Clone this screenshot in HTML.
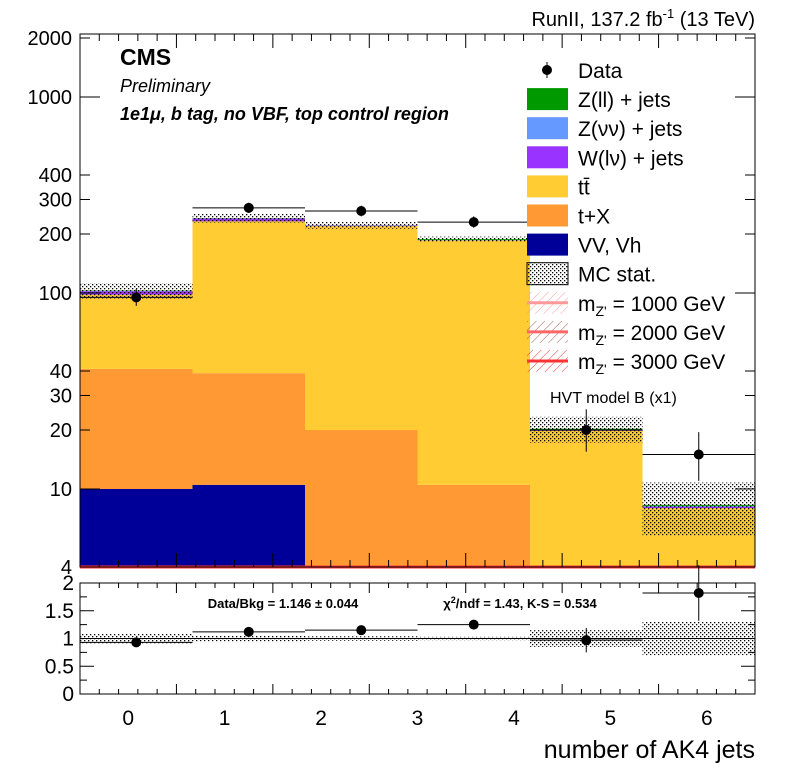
<!DOCTYPE html>
<html><head><meta charset="utf-8"><style>
html,body{margin:0;padding:0;background:#fff;}
svg{display:block;font-family:"Liberation Sans",sans-serif;}
</style></head><body>
<svg id="c" width="796" height="772" xmlns="http://www.w3.org/2000/svg">
<defs>
<pattern id="dots" width="4" height="4" patternUnits="userSpaceOnUse"><rect x="0" y="0" width="1.3" height="1.3" fill="#000"/><rect x="2" y="2" width="1.3" height="1.3" fill="#000"/></pattern>
<pattern id="h1" width="6" height="6" patternUnits="userSpaceOnUse" patternTransform="rotate(45)"><line x1="0" y1="0" x2="0" y2="6" stroke="#ff9999" stroke-width="1"/></pattern>
<pattern id="h2" width="6" height="6" patternUnits="userSpaceOnUse" patternTransform="rotate(45)"><line x1="0" y1="0" x2="0" y2="6" stroke="#aa5555" stroke-width="1"/></pattern>
<pattern id="h3" width="6" height="6" patternUnits="userSpaceOnUse" patternTransform="rotate(45)"><line x1="0" y1="0" x2="0" y2="6" stroke="#ee3333" stroke-width="1"/></pattern>
</defs>
<g id="main"></g>
<text x="755" y="26" text-anchor="end" font-size="20">RunII, 137.2 fb<tspan dy="-8" font-size="13">-1</tspan><tspan dy="8">  (13 TeV)</tspan></text>
<text x="120" y="65" font-size="23" font-weight="bold">CMS</text>
<text x="120" y="92" font-size="18" font-style="italic">Preliminary</text>
<text x="120" y="120" font-size="18" font-style="italic" font-weight="bold">1e1μ, b tag, no VBF, top control region</text>
<text x="283" y="608" font-size="13" font-weight="bold" text-anchor="middle">Data/Bkg = 1.146 ± 0.044</text>
<text x="520" y="608" font-size="13" font-weight="bold" text-anchor="middle">χ<tspan dy="-5" font-size="9">2</tspan><tspan dy="5">/ndf = 1.43,   K-S = 0.534</tspan></text>
<text x="755" y="758" text-anchor="end" font-size="25">number of AK4 jets</text>
<text x="0" y="48" font-size="20" transform="rotate(-90 0 48)">s</text>
</svg>
<script>
const categories=[0,1,2,3,4,5];
const vv=[10,10.5,0,0,0,0];
const tX=[31,28.5,20,10.5,0.3,0.2];
const ttbar=[57,193,200,175,19.5,7.8];
const wlv=[4,8,1,0.5,0.2,0.1];
const znn=[0.5,0.5,0.3,0.3,0.1,0.1];
const zll=[0.5,0.5,0.5,2,0.2,0.1];
const statRel=[0.09,0.05,0.04,0.03,0.15,0.3];
const data=[95,272,262,230,20,15];
const dataErrLo=[9,16,16,15,4.5,4];
const dataErrHi=[10,17,17,16,5.5,4.5];
const ratio=[0.93,1.12,1.15,1.25,0.97,1.82];
const ratioErr=[0.08,0.07,0.07,0.07,0.22,0.5];
const yTicks=[4,10,20,30,40,100,200,300,400,1000,2000];
const ratioTicks=[0,0.5,1,1.5,2];
const xTicks=[0,1,2,3,4,5,6];

const NS="http://www.w3.org/2000/svg";
const g=document.getElementById('main');
const X0=80,X1=755;
function xv(v){return X0+(v+0.5)*(X1-X0)/7;}
function binL(i){return X0+i*(X1-X0)/6;}
function binR(i){return X0+(i+1)*(X1-X0)/6;}
function y(v){return 293-(Math.log10(v)-2)*196;}
const YB=567,YT=34;
function yr(v){return 694-v*(694-583)/2;}
function el(t,a,p){const e=document.createElementNS(NS,t);for(const k in a)e.setAttribute(k,a[k]);(p||g).appendChild(e);return e;}

const layers=[[vv,'#000099','vv-vh'],[tX,'#ff9933','t-plus-x'],[ttbar,'#ffcc33','ttbar'],[wlv,'#9933ff','w-lnu-jets'],[znn,'#6699ff','z-nunu-jets'],[zll,'#009900','z-ll-jets']];
categories.forEach((c,i)=>{
  let base=0;
  layers.forEach(L=>{
    const v=L[0][i];if(v<=0)return;
    const top=base+v;
    const yb=base>0?Math.min(y(base),YB):YB;
    const yt=Math.max(y(top),YT);
    if(yt<YB){
      const r=el('rect',{x:binL(i),y:yt,width:binR(i)-binL(i),height:Math.max(0,yb-yt),fill:L[1]});
      
      
    }
    base=top;
  });
  const tot=base,s=statRel[i]*tot;
  const st=el('rect',{x:binL(i),y:y(tot+s),width:binR(i)-binL(i),height:y(tot-s)-y(tot+s),fill:'url(#dots)'});
  
  
});
const sig=el('line',{x1:X0,x2:X1,y1:YB,y2:YB,stroke:'#ff3333','stroke-width':3});


categories.forEach((c,i)=>{
  const cx=(binL(i)+binR(i))/2,cy=y(data[i]);
  el('line',{x1:binL(i),x2:binR(i),y1:cy,y2:cy,stroke:'#000','stroke-width':1});
  el('line',{x1:cx,x2:cx,y1:y(data[i]+dataErrHi[i]),y2:Math.min(y(data[i]-dataErrLo[i]),YB),stroke:'#000','stroke-width':1});
  const p=el('circle',{cx:cx,cy:cy,r:5,fill:'#000'});
  
  
});
const fr=el('rect',{x:X0,y:YT,width:X1-X0,height:YB-YT,fill:'none',stroke:'#000','stroke-width':1});


yTicks.forEach(t=>{
  const yy=y(t);
  const major=(t===10||t===100||t===1000);
  el('line',{x1:X0,x2:X0+(major?20:10),y1:yy,y2:yy,stroke:'#000'});
  el('line',{x1:X1,x2:X1-(major?20:10),y1:yy,y2:yy,stroke:'#000'});
  const tx=el('text',{x:X0-8,y:yy+7,'text-anchor':'end','font-size':20});tx.textContent=t;
  
  
});
for(let k=0;k<=35;k++){const xx=X0+k*(X1-X0)/35;const big=k%5===0;
  el('line',{x1:xx,x2:xx,y1:YT,y2:YT+(big?14:7),stroke:'#000'});
  el('line',{x1:xx,x2:xx,y1:YB,y2:YB-(big?14:7),stroke:'#000'});
  el('line',{x1:xx,x2:xx,y1:583,y2:583+(big?10:5),stroke:'#000'});
  el('line',{x1:xx,x2:xx,y1:694,y2:694-(big?10:5),stroke:'#000'});
}
categories.forEach((c,i)=>{
  const s=statRel[i];
  const b=el('rect',{x:binL(i),y:yr(1+s),width:binR(i)-binL(i),height:yr(1-s)-yr(1+s),fill:'url(#dots)'});
  
  
});
el('line',{x1:X0,x2:X1,y1:yr(1),y2:yr(1),stroke:'#000','stroke-width':1});
categories.forEach((c,i)=>{
  const cx=(binL(i)+binR(i))/2,cy=yr(ratio[i]);
  el('line',{x1:binL(i),x2:binR(i),y1:cy,y2:cy,stroke:'#000'});
  el('line',{x1:cx,x2:cx,y1:yr(ratio[i]+ratioErr[i]),y2:yr(ratio[i]-ratioErr[i]),stroke:'#000'});
  const p=el('circle',{cx:cx,cy:cy,r:5,fill:'#000'});
  
  
});
const rf=el('rect',{x:X0,y:583,width:X1-X0,height:111,fill:'none',stroke:'#000'});


ratioTicks.forEach(t=>{const yy=yr(t);
  el('line',{x1:X0,x2:X0+14,y1:yy,y2:yy,stroke:'#000'});el('line',{x1:X1,x2:X1-14,y1:yy,y2:yy,stroke:'#000'});
  const tx=el('text',{x:X0-6,y:yy+7,'text-anchor':'end','font-size':21});tx.textContent=t;
  
  
});
for(let k=1;k<8;k+=2){const yy=yr(k*0.25);el('line',{x1:X0,x2:X0+7,y1:yy,y2:yy,stroke:'#000'});el('line',{x1:X1,x2:X1-7,y1:yy,y2:yy,stroke:'#000'});}
xTicks.forEach(t=>{
  const tx=el('text',{x:xv(t),y:725,'text-anchor':'middle','font-size':21});tx.textContent=t;
  
  
});
const leg=[['Data','data'],['Z(ll) + jets','#009900'],['Z(νν) + jets','#6699ff'],['W(lν) + jets','#9933ff'],['tt̄','#ffcc33'],['t+X','#ff9933'],['VV, Vh','#000099'],['MC stat.','stat'],['m','s1','1000'],['m','s2','2000'],['m','s3','3000']];
leg.forEach((L,k)=>{
  const yy=70+k*29.1;
  const lg=el('g',{});
  
  
  if(L[1]==='data'){el('circle',{cx:547,cy:yy,r:5,fill:'#000'},lg);el('line',{x1:547,x2:547,y1:yy-8,y2:yy+8,stroke:'#000'},lg);}
  else if(L[1]==='stat'){el('rect',{x:527,y:yy-11,width:41,height:22,fill:'url(#dots)',stroke:'#000'},lg);}
  else if(L[1][0]==='s'){const n=L[1][1];el('rect',{x:527,y:yy-11,width:41,height:22,fill:'url(#h'+n+')'},lg);el('line',{x1:527,x2:568,y1:yy,y2:yy,stroke:['#ff9999','#ff6666','#ff3333'][n-1],'stroke-width':3},lg);}
  else el('rect',{x:527,y:yy-11,width:41,height:22,fill:L[1]},lg);
  const t=el('text',{x:578,y:yy+8,'font-size':21},lg);
  if(L[0]==='m'){t.innerHTML='m<tspan dy="5" font-size="14">Z\'</tspan><tspan dy="-5"> = '+L[2]+' GeV</tspan>';}
  else t.textContent=L[0];
});
const hv=el('text',{x:550,y:403,'font-size':16});hv.textContent='HVT model B (x1)';


</script>
</body></html>
